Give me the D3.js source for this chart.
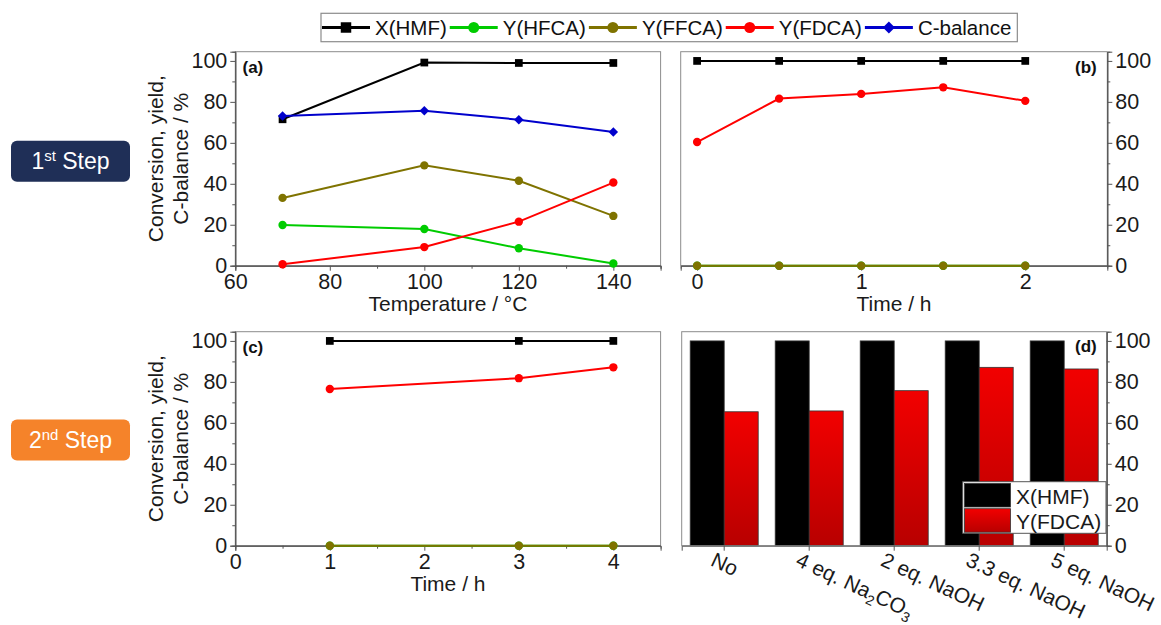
<!DOCTYPE html>
<html>
<head>
<meta charset="utf-8">
<script src="https://cdn.jsdelivr.net/npm/d3@7.9.0/dist/d3.min.js"></script>
<style>
  body { margin: 0; background: #fff; }
  svg { font-family: "Liberation Sans", Arial, sans-serif; }
</style>
</head>
<body>
<svg id="chart" width="1161" height="625"></svg>
<script>
// ---- data ----
const seriesNames = ['X(HMF)', 'Y(HFCA)', 'Y(FFCA)', 'Y(FDCA)', 'C-balance'];
const yTicks = [0, 20, 40, 60, 80, 100];
const yMinor = [10, 30, 50, 70, 90];

// (a) temperature screening
const tempA = [70, 100, 120, 140];
const xHmfA = [71.5, 99.2, 99.0, 99.0];
const yHfcaA = [19.9, 17.9, 8.5, 1.1];
const yFfcaA = [33.1, 49.0, 41.5, 24.3];
const yFdcaA = [0.7, 9.1, 21.5, 40.6];
const cBalA = [73.1, 75.7, 71.3, 65.3];
const tempTicks = [60, 80, 100, 120, 140];
const tempMinor = [70, 90, 110, 130, 150];

// (b) time, 1st step
const timeB = [0, 0.5, 1, 1.5, 2];
const xHmfB = [100, 100, 100, 100, 100];
const yHfcaB = [0, 0, 0, 0, 0];
const yFfcaB = [0, 0, 0, 0, 0];
const yFdcaB = [60.4, 81.6, 83.9, 87.1, 80.5];
const timeBTicks = [0, 1, 2];
const timeBMinor = [0.5, 1.5];

// (c) time, 2nd step
const timeC = [1, 3, 4];
const xHmfC = [100, 100, 100];
const yHfcaC = [0, 0, 0];
const yFfcaC = [0, 0, 0];
const yFdcaC = [76.5, 81.8, 87.1];
const timeCTicks = [0, 1, 2, 3, 4];
const timeCMinor = [0.5, 1.5, 2.5, 3.5];

// (d) base screening
const bases = ['No', '4 eq. Na2CO3', '2 eq. NaOH', '3.3 eq. NaOH', '5 eq. NaOH'];
const xHmfD = [100, 100, 100, 100, 100];
const yFdcaD = [65.4, 65.8, 75.7, 87.1, 86.3];
const barNames = ['X(HMF)', 'Y(FDCA)'];

// ---- style ----
const colors = {
  'X(HMF)': '#000000', 'Y(HFCA)': '#00cc00', 'Y(FFCA)': '#7f7300',
  'Y(FDCA)': '#ff0000', 'C-balance': '#0000cc'
};
const shapes = {
  'X(HMF)': d3.symbolSquare, 'Y(HFCA)': d3.symbolCircle, 'Y(FFCA)': d3.symbolCircle,
  'Y(FDCA)': d3.symbolCircle, 'C-balance': d3.symbolSquare
};
const markSize = { 'X(HMF)': 60, 'Y(HFCA)': 55, 'Y(FFCA)': 55, 'Y(FDCA)': 55, 'C-balance': 45 };
const yTop = 104.5;

const svg = d3.select('#chart');

const defs = svg.append('defs');
const grad = defs.append('linearGradient').attr('id', 'redGrad')
  .attr('x1', 0).attr('y1', 0).attr('x2', 0).attr('y2', 1);
grad.append('stop').attr('offset', '0%').attr('stop-color', '#f20000');
grad.append('stop').attr('offset', '100%').attr('stop-color', '#b80000');

function styleAxis(sel) {
  sel.selectAll('.domain').attr('stroke', '#555').attr('stroke-width', 1);
  sel.selectAll('.tick line').attr('stroke', '#555').attr('stroke-width', 1);
  sel.selectAll('.tick text').attr('font-size', 21.5).attr('fill', '#1a1a1a')
    .attr('font-family', '"Liberation Sans", Arial, sans-serif');
}

function frame(p) {
  svg.append('rect')
    .attr('x', p.left).attr('y', p.top)
    .attr('width', p.right - p.left).attr('height', p.bottom - p.top)
    .attr('fill', 'none').attr('stroke', '#8c8c8c').attr('stroke-width', 1);
}

function yAxisFor(p, y) {
  const onRight = p.rightAxis;
  const ax = onRight ? d3.axisRight(y) : d3.axisLeft(y);
  const axMinor = onRight ? d3.axisRight(y) : d3.axisLeft(y);
  const xPos = onRight ? p.right : p.left;
  svg.append('g').attr('transform', `translate(${xPos},0)`)
    .call(axMinor.tickValues(yMinor).tickSize(3).tickFormat(''))
    .call(styleAxis);
  svg.append('g').attr('transform', `translate(${xPos},0)`)
    .call(ax.tickValues(yTicks).tickSize(5).tickPadding(3))
    .call(styleAxis);
}

function yTitle(cx, cy) {
  svg.append('text').attr('transform', `translate(${cx - 25},${cy}) rotate(-90)`)
    .attr('text-anchor', 'middle').attr('font-size', 21).attr('fill', '#1a1a1a')
    .text('Conversion, yield,');
  svg.append('text').attr('transform', `translate(${cx},${cy}) rotate(-90)`)
    .attr('text-anchor', 'middle').attr('font-size', 21).attr('fill', '#1a1a1a')
    .text('C-balance / %');
}

function panelLabel(x, y, t) {
  svg.append('text').attr('x', x).attr('y', y).attr('font-size', 17)
    .attr('font-weight', 'bold').attr('fill', '#111').text(t);
}

function linePanel(p) {
  const x = d3.scaleLinear().domain(p.xDomain).range([p.left, p.right]);
  const y = d3.scaleLinear().domain([0, yTop]).range([p.bottom, p.top]);
  frame(p);
  svg.append('g').attr('transform', `translate(0,${p.bottom})`)
    .call(d3.axisBottom(x).tickValues(p.xMinor).tickSize(3).tickFormat(''))
    .call(styleAxis);
  svg.append('g').attr('transform', `translate(0,${p.bottom})`)
    .call(d3.axisBottom(x).tickValues(p.xTicks).tickSize(5).tickPadding(3).tickFormat(d3.format('d')))
    .call(styleAxis);
  yAxisFor(p, y);

  p.series.forEach(s => {
    const pts = s.xs.map((v, i) => [v, s.ys[i]]);
    const c = colors[s.name];
    svg.append('path').datum(pts)
      .attr('d', d3.line().x(d => x(d[0])).y(d => y(d[1])))
      .attr('fill', 'none').attr('stroke', c).attr('stroke-width', 2);
    const rot = s.name === 'C-balance' ? ' rotate(45)' : '';
    svg.append('g').selectAll('path').data(pts).join('path')
      .attr('transform', d => `translate(${x(d[0])},${y(d[1])})${rot}`)
      .attr('d', d3.symbol(shapes[s.name], markSize[s.name]))
      .attr('fill', c);
  });

  svg.append('text').attr('x', (p.left + p.right) / 2).attr('y', p.bottom + 45)
    .attr('text-anchor', 'middle').attr('font-size', 21).attr('fill', '#1a1a1a')
    .text(p.xTitle);
}

const pa = { left: 235.3, right: 660.6, top: 51.7, bottom: 265.7 };
const pb = { left: 680.7, right: 1107.3, top: 51.7, bottom: 265.7, rightAxis: true };
const pc = { left: 235.3, right: 660.6, top: 331.7, bottom: 545.7 };
const pd = { left: 681.7, right: 1106.7, top: 331.7, bottom: 545.7, rightAxis: true };

linePanel(Object.assign(pa, {
  xDomain: [60, 150], xTicks: tempTicks, xMinor: tempMinor, xTitle: 'Temperature / °C',
  series: [
    { name: 'X(HMF)', xs: tempA, ys: xHmfA },
    { name: 'Y(HFCA)', xs: tempA, ys: yHfcaA },
    { name: 'Y(FFCA)', xs: tempA, ys: yFfcaA },
    { name: 'Y(FDCA)', xs: tempA, ys: yFdcaA },
    { name: 'C-balance', xs: tempA, ys: cBalA }
  ]
}));
linePanel(Object.assign(pb, {
  xDomain: [-0.1, 2.5], xTicks: timeBTicks, xMinor: timeBMinor, xTitle: 'Time / h',
  series: [
    { name: 'X(HMF)', xs: timeB, ys: xHmfB },
    { name: 'Y(HFCA)', xs: timeB, ys: yHfcaB },
    { name: 'Y(FFCA)', xs: timeB, ys: yFfcaB },
    { name: 'Y(FDCA)', xs: timeB, ys: yFdcaB }
  ]
}));
linePanel(Object.assign(pc, {
  xDomain: [0, 4.5], xTicks: timeCTicks, xMinor: timeCMinor, xTitle: 'Time / h',
  series: [
    { name: 'X(HMF)', xs: timeC, ys: xHmfC },
    { name: 'Y(HFCA)', xs: timeC, ys: yHfcaC },
    { name: 'Y(FFCA)', xs: timeC, ys: yFfcaC },
    { name: 'Y(FDCA)', xs: timeC, ys: yFdcaC }
  ]
}));

// ---- (d) bars ----
{
  const x0 = d3.scaleBand().domain(bases).range([pd.left, pd.right]).padding(0);
  const x1 = d3.scaleBand().domain(barNames).range([0, x0.bandwidth()])
    .paddingInner(0).paddingOuter(0.25);
  const y = d3.scaleLinear().domain([0, yTop]).range([pd.bottom, pd.top]);
  const vals = { 'X(HMF)': xHmfD, 'Y(FDCA)': yFdcaD };

  const groups = svg.append('g').selectAll('g').data(bases).join('g')
    .attr('transform', d => `translate(${x0(d)},0)`);
  groups.selectAll('rect').data((d, i) => barNames.map(n => ({ n, v: vals[n][i] })))
    .join('rect')
    .attr('x', d => x1(d.n)).attr('width', x1.bandwidth())
    .attr('y', d => y(d.v)).attr('height', d => y(0) - y(d.v))
    .attr('fill', d => d.n === 'X(HMF)' ? '#000' : 'url(#redGrad)')
    .attr('stroke', '#333').attr('stroke-width', 0.8);

  frame(pd);
  svg.append('g').attr('transform', `translate(0,${pd.bottom})`)
    .call(d3.axisBottom(x0).tickSize(5).tickFormat(''))
    .call(styleAxis);
  yAxisFor(pd, y);

  // rotated category labels
  bases.forEach(b => {
    const cx = x0(b) + x0.bandwidth() / 2;
    const t = svg.append('text')
      .attr('transform', `translate(${cx - 8},${pd.bottom + 5}) rotate(25)`)
      .attr('dy', '0.75em').attr('font-size', 21).attr('fill', '#1a1a1a');
    const m = b.match(/^(.*Na)2CO3$/);
    if (m) {
      t.append('tspan').text(m[1]);
      t.append('tspan').attr('dy', 5).attr('font-size', 14).text('2');
      t.append('tspan').attr('dy', -5).text('CO');
      t.append('tspan').attr('dy', 5).attr('font-size', 14).text('3');
    } else {
      t.text(b);
    }
  });

  // inner legend
  const lg = svg.append('g');
  lg.append('rect').attr('x', 962.7).attr('y', 481.7).attr('width', 143.3).attr('height', 51.6)
    .attr('fill', '#fff').attr('stroke', '#555').attr('stroke-width', 1);
  barNames.forEach((n, i) => {
    lg.append('rect').attr('x', 964.5).attr('y', 483.5 + i * 25.2)
      .attr('width', 46).attr('height', 23.5)
      .attr('fill', n === 'X(HMF)' ? '#000' : 'url(#redGrad)')
      .attr('stroke', '#333').attr('stroke-width', 0.8);
    lg.append('text').attr('x', 1016).attr('y', 504 + i * 25.2)
      .attr('font-size', 21).attr('fill', '#1a1a1a').text(n);
  });
}

// ---- axis titles and panel labels ----
yTitle(188, (pa.top + pa.bottom) / 2);
yTitle(188, (pc.top + pc.bottom) / 2);
panelLabel(242.5, 73, '(a)');
panelLabel(1075, 73, '(b)');
panelLabel(242.5, 353, '(c)');
panelLabel(1075, 352, '(d)');

// ---- top legend ----
{
  const lg = svg.append('g');
  const box = lg.append('rect').attr('y', 13.3).attr('height', 28.4)
    .attr('fill', '#fff').attr('stroke', '#8c8c8c').attr('stroke-width', 1.2);
  let cx = 322;
  seriesNames.forEach((n, i) => {
    const c = colors[n];
    lg.append('line').attr('x1', cx).attr('x2', cx + 48).attr('y1', 27.5).attr('y2', 27.5)
      .attr('stroke', c).attr('stroke-width', 3);
    const rot = n === 'C-balance' ? ' rotate(45)' : '';
    lg.append('path').attr('transform', `translate(${cx + 24},27.5)${rot}`)
      .attr('d', d3.symbol(shapes[n], n === 'X(HMF)' ? 110 : (n === 'C-balance' ? 72 : 95)))
      .attr('fill', c);
    const t = lg.append('text').attr('x', cx + 53).attr('y', 35)
      .attr('font-size', 20.5).attr('fill', '#111').text(n);
    cx = cx + 53 + t.node().getComputedTextLength() + 3;
  });
  box.attr('x', 321).attr('width', cx + 3 - 321);
}

// ---- step tags ----
function stepTag(y, fill, num, sup) {
  svg.append('rect').attr('x', 11).attr('y', y).attr('width', 119).attr('height', 41)
    .attr('rx', 6).attr('fill', fill);
  const t = svg.append('text').attr('x', 70.5).attr('y', y + 28.5)
    .attr('text-anchor', 'middle').attr('font-size', 23).attr('fill', '#fff');
  t.append('tspan').text(num);
  t.append('tspan').attr('font-size', 15).attr('dy', -8).text(sup);
  t.append('tspan').attr('dy', 8).text(' Step');
}
stepTag(140.7, '#1f2f57', '1', 'st');
stepTag(419.5, '#f5832a', '2', 'nd');
</script>
</body>
</html>
